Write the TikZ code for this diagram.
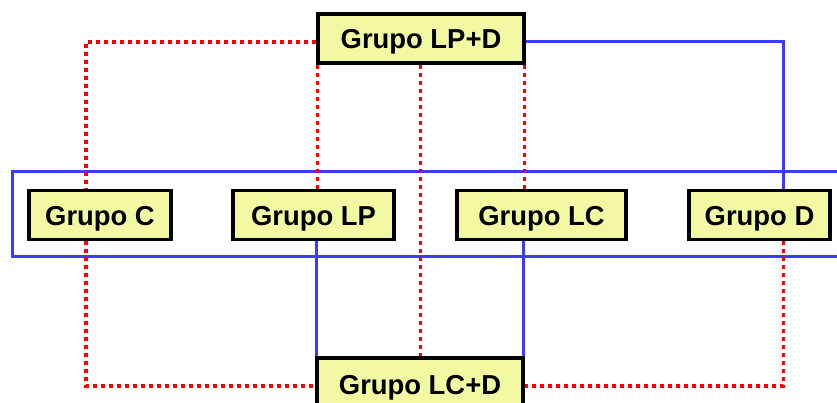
\documentclass[tikz,border=0pt]{standalone}
\usepackage{fontspec}
\setmainfont{Liberation Sans}
\usetikzlibrary{calc,backgrounds}
\definecolor{boxfill}{RGB}{243,249,163}
\definecolor{linkblue}{RGB}{60,60,255}
\definecolor{linkred}{RGB}{255,0,0}
\tikzset{
  groupbox/.style={draw=black, line width=3.2pt, fill=boxfill, inner sep=0pt,
    minimum height=49pt, text height=21pt, text depth=0pt,
    font=\fontsize{27.4}{31}\selectfont\bfseries},
  solidlink/.style={draw=linkblue, line width=3pt},
  dottedlink/.style={draw=linkred, line width=3.2pt, dash pattern=on 4pt off 4pt},
}
\begin{document}
\begin{tikzpicture}[x=1pt, y=-1pt]
  \useasboundingbox (0,0) rectangle (837,403);
  \clip (0,0) rectangle (837,403);

  % group boxes
  \path
    (421,38.5)   node[groupbox, minimum width=206pt] (lpd) {Grupo LP+D}
    (100,215)    node[groupbox, minimum width=142pt] (c)   {Grupo C}
    (313.5,215)  node[groupbox, minimum width=161pt] (lp)  {Grupo LP}
    (541.5,215)  node[groupbox, minimum width=169pt] (lc)  {Grupo LC\hspace{13pt}}
    (759.5,215)  node[groupbox, minimum width=141pt] (d)   {Grupo D}
    (420,384)    node[groupbox, minimum width=206pt, minimum height=52pt] (lcd) {Grupo LC+D};

  \begin{scope}[on background layer]
    % frame around the middle row
    \draw[solidlink] (12,172) rectangle (860,256.5);

    % links from Grupo LP+D
    \draw[dottedlink] ([yshift=-3.5pt]lpd.west) -| ([xshift=-14pt]c.north);
    \draw[dottedlink] ([xshift=1pt]lpd.south west) -- ([xshift=1pt]lpd.south west |- lp.north);
    \draw[dottedlink] ([xshift=-0.5pt]lpd.south) -- ([xshift=-0.5pt]lpd.south |- lcd.north);
    \draw[dottedlink] ([xshift=-1pt]lpd.south east) -- ([xshift=-1pt]lpd.south east |- lc.north);
    \draw[solidlink] ([yshift=-3.5pt]lpd.east) -| ([xshift=24pt]d.north);

    % links to Grupo LC+D
    \draw[dottedlink] ([xshift=-14pt]c.south) |- ([yshift=-2pt]lcd.west);
    \draw[solidlink] ([xshift=1pt]lcd.north west |- lp.south) -- ([xshift=1pt]lcd.north west);
    \draw[solidlink] ([xshift=-1pt]lcd.north east |- lc.south) -- ([xshift=-1pt]lcd.north east);
    \draw[dottedlink] ([xshift=24pt]d.south) |- ([yshift=-2pt]lcd.east);
  \end{scope}
\end{tikzpicture}
\end{document}
